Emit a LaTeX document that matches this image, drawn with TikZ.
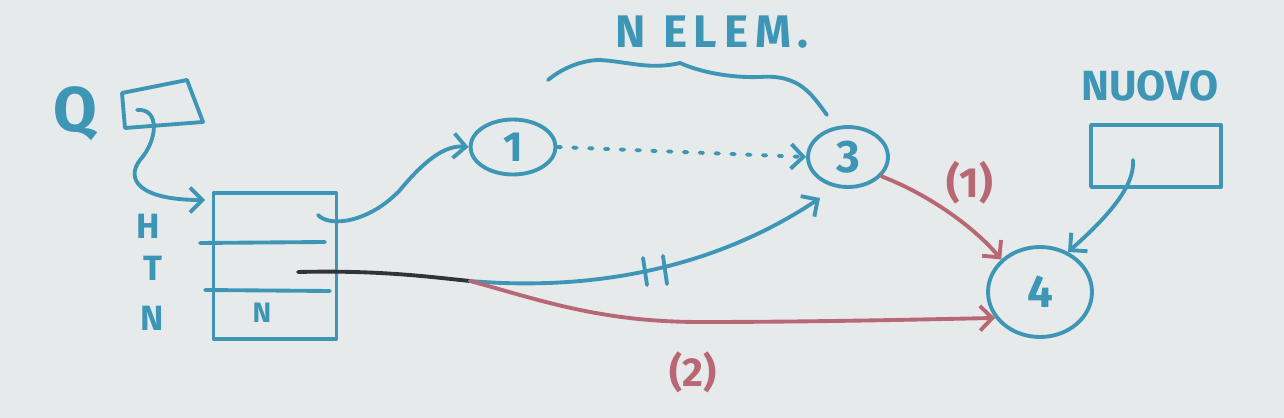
\documentclass[tikz,border=0pt]{standalone}
\usepackage{fontspec}
\setmainfont{Fira Sans}
\usetikzlibrary{arrows.meta,shapes.geometric}
\definecolor{bg}{RGB}{231,234,234}
\definecolor{mblue}{RGB}{62,150,182}
\definecolor{mred}{RGB}{184,104,116}
\definecolor{mblack}{RGB}{50,50,55}
\tikzset{
  mk/.style={line width=2.2pt, line cap=round, line join=round},
  bl/.style={mk, draw=mblue},
  rd/.style={mk, draw=mred},
  tip/.style={-{Straight Barb[length=7pt,width=14pt]}},
  circ/.style={ellipse, bl, inner sep=0pt, text=mblue},
  lbl/.style={text=mblue, inner sep=0pt},
  rlbl/.style={text=mred, inner sep=0pt},
  boxst/.style={bl, inner sep=0pt}
}
\begin{document}
\begin{tikzpicture}[x=0.02cm,y=-0.02cm]
\fill[bg] (0,0) rectangle (1284,418);
% Q pointer
\node[lbl, font=\bfseries\fontsize{36}{38}\selectfont] (Q) at (75,114) {Q};
\draw[bl] (122,93) -- (187,80) -- (203,122) -- (125,128) -- cycle;
\coordinate (qs) at (137,110);
% structure box
\node[boxst, minimum width=2.46cm, minimum height=2.92cm] (S) at (275,266) {};
\draw[bl] (200,243) -- (325,242);
\draw[bl] (205,290) -- (330,291);
\node[lbl, font=\bfseries\fontsize{20}{22}\selectfont] (H) at (148,226) {H};
\node[lbl, font=\bfseries\fontsize{20}{22}\selectfont] (T) at (153,268) {T};
\node[lbl, font=\bfseries\fontsize{20}{22}\selectfont] (N) at (152,318) {N};
\node[lbl, font=\bfseries\fontsize{16}{18}\selectfont] (n) at (262,313) {N};
\coordinate (hin) at (205,200);
\draw[bl, tip] (qs) .. controls (160,108) and (158,140) .. (140,160) .. controls (125,180) and (140,200) .. (hin);
% list nodes
\node[circ, minimum width=1.7cm, minimum height=1.1cm, font=\bfseries\fontsize{24}{26}\selectfont] (c1) at (513,147) {1};
\node[circ, minimum width=1.6cm, minimum height=1.2cm, font=\bfseries\fontsize{26}{28}\selectfont] (c3) at (848,157) {3};
\node[circ, minimum width=2.08cm, minimum height=1.8cm, font=\bfseries\fontsize{26}{28}\selectfont] (c4) at (1040,292) {4};
% H pointer
\coordinate (hs) at (318,215);
\draw[bl, tip] (hs) .. controls (330,228) and (370,222) .. (400,190) .. controls (425,160) and (445,145) .. (c1.west);
% dotted chain
\draw[bl, dash pattern=on 2pt off 7pt, tip] (c1.east) -- (c3.west);
% brace
\draw[bl] (548,80) .. controls (565,66) and (585,60) .. (600,60) .. controls (630,62) and (650,70) .. (680,63) .. controls (700,72) and (730,78) .. (760,77) .. controls (800,74) and (812,95) .. (827,115);
\node[lbl, font=\bfseries\fontsize{26}{28}\selectfont\addfontfeature{LetterSpace=15}] (ne) at (712,32) {N ELEM.};
% new element
\node[lbl, font=\bfseries\fontsize{24}{26}\selectfont] (nuovo) at (1150,86) {NUOVO};
\node[boxst, minimum width=2.6cm, minimum height=1.24cm] (nb) at (1156,156) {};
\coordinate (ns) at (1133,160);
\draw[bl, tip] (ns) .. controls (1135,185) and (1110,215) .. (c4.55);
% T pointer
\coordinate (ts) at (298,272);
\coordinate (sp) at (470,281);
\draw[mk, draw=mblack] (ts) .. controls (380,270) and (430,277) .. (sp);
\coordinate (a3) at (820,198);
\draw[bl, tip] (sp) .. controls (600,292) and (720,265) .. (a3);
\draw[bl] (643,258) -- (647,285);
\draw[bl] (663,256) -- (667,284);
\draw[rd, tip] (sp) .. controls (540,300) and (600,322) .. (700,322) .. controls (800,322) and (900,320) .. (c4.210);
\node[rlbl, font=\bfseries\fontsize{23}{25}\selectfont] (l2) at (693,372) {(2)};
\draw[rd, tip] (c3.-30) .. controls (930,195) and (975,228) .. (c4.140);
\node[rlbl, font=\bfseries\fontsize{24}{26}\selectfont] (l1) at (970,183) {(1)};
\end{tikzpicture}
\end{document}
